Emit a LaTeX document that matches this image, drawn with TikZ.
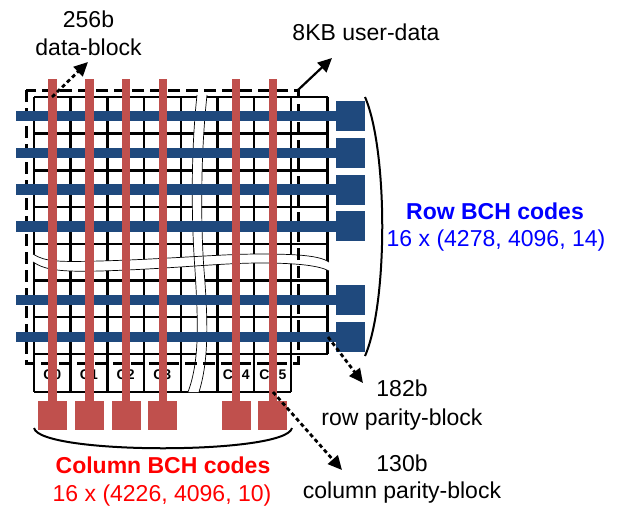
\documentclass[tikz,border=0pt]{standalone}
\usepackage{fontspec}
\setmainfont{Liberation Sans}
\usetikzlibrary{arrows.meta}
\definecolor{rowbarc}{HTML}{1F497D}
\definecolor{colbarc}{HTML}{C0504D}
\definecolor{rowtxtc}{HTML}{0000FF}
\definecolor{coltxtc}{HTML}{FF0000}
\tikzset{
  gridline/.style={draw=black, line width=2.5pt, line cap=square},
  rowbar/.style={fill=rowbarc},
  colbar/.style={fill=colbarc},
  breakband/.style={fill=white},
  breakedge/.style={draw=black, line width=0.7pt},
  userbox/.style={draw=black, line width=3pt, dash pattern=on 12pt off 6pt},
  brace/.style={draw=black, line width=2pt},
  parityarrow/.style={draw=black, line width=2.8pt, dash pattern=on 4pt off 3pt, -{Triangle[length=14pt,width=13pt]}},
  userarrow/.style={draw=black, line width=2.2pt, -{Triangle[length=14pt,width=13pt]}},
  bigtxt/.style={inner sep=0pt, anchor=base, font=\fontsize{23}{28}\selectfont},
  celltxt/.style={inner sep=0pt, anchor=base, font=\bfseries\fontsize{14}{16}\selectfont},
}

\begin{document}
\begin{tikzpicture}[x=1pt, y=-1pt]
\useasboundingbox (0,0) rectangle (617,506);
\draw[gridline] (34.0,97) -- (34.0,392);
\draw[gridline] (70.7,97) -- (70.7,392);
\draw[gridline] (107.4,97) -- (107.4,392);
\draw[gridline] (144.1,97) -- (144.1,392);
\draw[gridline] (180.8,97) -- (180.8,392);
\draw[gridline] (217.5,97) -- (217.5,392);
\draw[gridline] (254.2,97) -- (254.2,392);
\draw[gridline] (290.9,97) -- (290.9,392);
\draw[gridline] (327.6,97) -- (327.6,353.9);
\draw[gridline] (34,97.0) -- (327.6,97.0);
\draw[gridline] (34,133.7) -- (327.6,133.7);
\draw[gridline] (34,170.4) -- (327.6,170.4);
\draw[gridline] (34,207.1) -- (327.6,207.1);
\draw[gridline] (34,243.8) -- (327.6,243.8);
\draw[gridline] (34,280.5) -- (327.6,280.5);
\draw[gridline] (34,317.2) -- (327.6,317.2);
\draw[gridline] (34,353.9) -- (327.6,353.9);
\draw[gridline] (34,392) -- (290.9,392);

\fill[breakband] (33,254) .. controls (45,262) and (60,262) .. (100,261) .. controls (170,259) and (220,254) .. (260,254) .. controls (300,254) and (320,256) .. (329,262) -- (329,271) .. controls (320,266) and (300,263) .. (260,263) .. controls (220,263) and (170,269) .. (100,271) .. controls (60,272) and (45,270) .. (33,262) -- cycle;
\fill[breakband] (197,95) .. controls (190,160) and (192,230) .. (195,270) .. controls (198,320) and (200,360) .. (188,392) -- (199,392) .. controls (209,360) and (208,320) .. (204,270) .. controls (201,230) and (200,160) .. (207,95) -- cycle;
\draw[breakedge] (33,254) .. controls (45,262) and (60,262) .. (100,261) .. controls (170,259) and (220,254) .. (260,254) .. controls (300,254) and (320,256) .. (329,262);
\draw[breakedge] (33,262) .. controls (45,270) and (60,272) .. (100,271) .. controls (170,269) and (220,263) .. (260,263) .. controls (300,263) and (320,266) .. (329,271);
\draw[breakedge] (197,95) .. controls (190,160) and (192,230) .. (195,270) .. controls (198,320) and (200,360) .. (188,392);
\draw[breakedge] (207,95) .. controls (200,160) and (201,230) .. (204,270) .. controls (208,320) and (209,360) .. (199,392);

\draw[userbox] (26,90) rectangle (298,363);

\fill[rowbar] (16,110.75) rectangle (336,121.25);
\fill[rowbar] (16,147.55) rectangle (336,158.05);
\fill[rowbar] (16,184.35) rectangle (336,194.85);
\fill[rowbar] (16,221.15) rectangle (336,231.65);
\fill[rowbar] (16,294.75) rectangle (336,305.25);
\fill[rowbar] (16,331.55) rectangle (336,342.05);
\fill[rowbar] (336,101.0) rectangle (365,131.0);
\fill[rowbar] (336,137.8) rectangle (365,167.8);
\fill[rowbar] (336,174.6) rectangle (365,204.6);
\fill[rowbar] (336,211.4) rectangle (365,241.4);
\fill[rowbar] (336,285.0) rectangle (365,315.0);
\fill[rowbar] (336,321.8) rectangle (365,351.8);

\node[celltxt] (c0) at (52.2,379) {C0};
\node[celltxt] (c1) at (88.9,379) {C1};
\node[celltxt] (c2) at (125.6,379) {C2};
\node[celltxt] (c3) at (162.3,379) {C3};
\node[celltxt] (c4) at (236.2,379) {C\kern9pt4};
\node[celltxt] (c5) at (272.9,379) {C\kern9pt5};

\fill[colbar] (48.45,79) rectangle (56.95,401);
\fill[colbar] (85.15,79) rectangle (93.65,401);
\fill[colbar] (121.85,79) rectangle (130.35,401);
\fill[colbar] (158.55,79) rectangle (167.05,401);
\fill[colbar] (231.95,79) rectangle (240.45,401);
\fill[colbar] (268.65,79) rectangle (277.15,401);
\fill[colbar] (38.2,401) rectangle (67.2,430);
\fill[colbar] (74.9,401) rectangle (103.9,430);
\fill[colbar] (111.6,401) rectangle (140.6,430);
\fill[colbar] (148.3,401) rectangle (177.3,430);
\fill[colbar] (221.7,401) rectangle (250.7,430);
\fill[colbar] (258.4,401) rectangle (287.4,430);

\draw[brace] (365,97) .. controls (388,150) and (388,303) .. (365,356);
\draw[brace] (34,428) .. controls (40,455) and (286,455) .. (292,428);

\coordinate (blkcorner) at (52,97);
\coordinate (blktip) at (88,62);
\coordinate (usercorner) at (298,90);
\coordinate (usertip) at (332,58);
\coordinate (rowpcell) at (328,337);
\coordinate (rowptip) at (363,383);
\coordinate (colpcell) at (273,392);
\coordinate (colptip) at (342,470);
\draw[parityarrow] (blkcorner) -- (blktip);
\draw[userarrow] (usercorner) -- (usertip);
\draw[parityarrow] (rowpcell) -- (rowptip);
\draw[parityarrow] (colpcell) -- (colptip);

\node[bigtxt] (blksize) at (88.5,27) {256b};
\node[bigtxt] (blkname) at (88.5,55) {data-block};
\node[bigtxt] (username) at (366,40) {8KB user-data};
\node[bigtxt, text=rowtxtc, font=\bfseries\fontsize{23}{28}\selectfont] (rowname) at (495,219) {Row BCH codes};
\node[bigtxt, text=rowtxtc] (rowparam) at (496,246) {16 x (4278, 4096, 14)};
\node[bigtxt] (rowpsize) at (402,396) {182b};
\node[bigtxt] (rowpname) at (402,425) {row parity-block};
\node[bigtxt] (colpsize) at (402,471) {130b};
\node[bigtxt] (colpname) at (402,498) {column parity-block};
\node[bigtxt, text=coltxtc, font=\bfseries\fontsize{23}{28}\selectfont] (colname) at (163,473) {Column BCH codes};
\node[bigtxt, text=coltxtc] (colparam) at (162,501) {16 x (4226, 4096, 10)};
\end{tikzpicture}
\end{document}
